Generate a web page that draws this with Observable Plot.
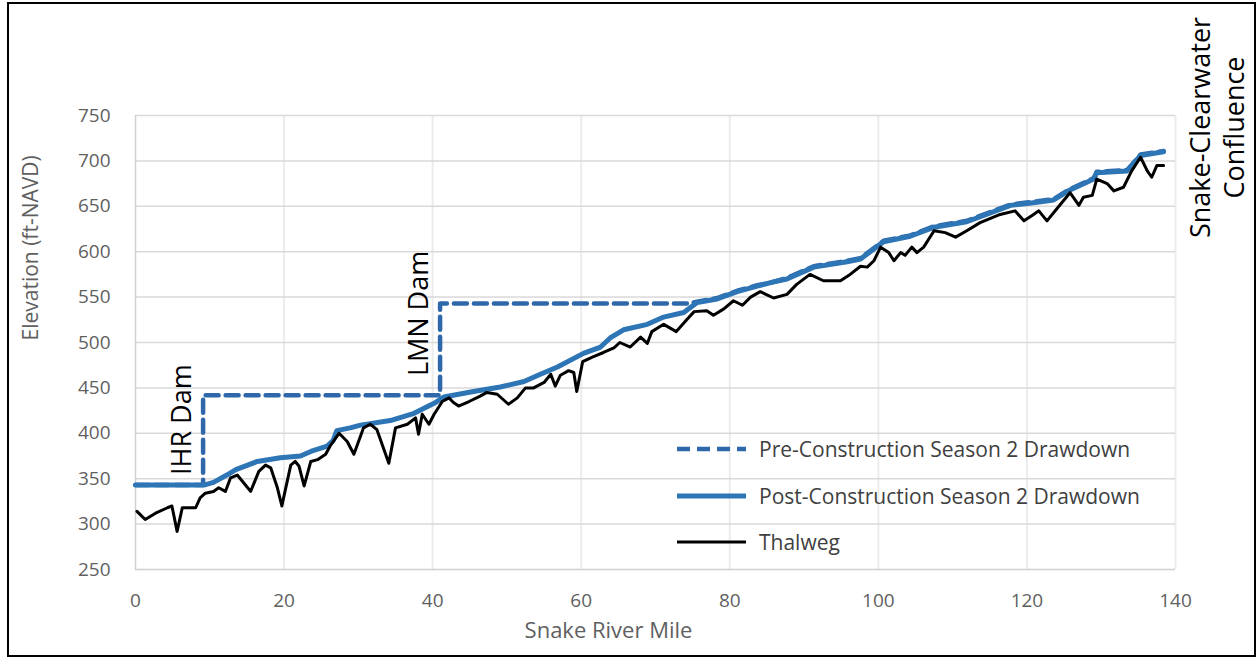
<!DOCTYPE html>
<html><head><meta charset="utf-8">
<script src="https://cdn.jsdelivr.net/npm/d3@7"></script>
<script src="https://cdn.jsdelivr.net/npm/@observablehq/plot@0.6"></script>
<style>
body{margin:0;background:#fff;}
#wrap{position:relative;width:1257px;height:659px;overflow:hidden;font-family:"Open Sans",sans-serif;background:#fff;}
#chart{position:absolute;left:0;top:0;}
#frame{position:absolute;left:7px;top:2px;width:1249px;height:655px;border:2px solid #000;box-sizing:border-box;pointer-events:none;}
#legend{position:absolute;left:677px;top:0;}
.item{position:absolute;left:0;height:30px;display:flex;align-items:center;white-space:nowrap;font-size:21px;color:#404040;}
.item svg{margin-right:12px;}
</style></head><body>
<div id="wrap"><div id="chart"></div><div id="legend"></div><div id="frame"></div></div>
<script>
// Tick values
const xTicks = [0, 20, 40, 60, 80, 100, 120, 140];
const yTicks = [250, 300, 350, 400, 450, 500, 550, 600, 650, 700, 750];

// Series names
const seriesNames = ["Pre-Construction Season 2 Drawdown", "Post-Construction Season 2 Drawdown", "Thalweg"];

// Pre-Construction Season 2 Drawdown (dashed)
const preMile = [0, 9.1, 9.1, 41.0, 41.0, 74.7, 75.6, 78.3, 81.0, 83.7, 85.5, 87.7, 91.3, 95.8, 97.6, 100.7, 104.3, 107.5, 111.9, 117.8, 120.9, 123.6, 125.8, 129.0, 129.4, 133.5, 135.3, 138.4];
const preElev = [343, 343, 442, 442, 543, 543, 545, 549, 557, 563, 566, 571, 584, 590, 593, 612, 618, 628, 634, 652, 655, 658, 669, 681, 688, 690, 707, 711];

// Post-Construction Season 2 Drawdown (solid blue)
const postMile = [0, 9.2, 10.5, 12.3, 13.5, 16.4, 19.5, 22.2, 23.6, 25.8, 26.6, 27.1, 28.9, 30.3, 34.3, 37.5, 40.2, 41.5, 45.5, 49.1, 52.3, 54.5, 56.8, 60.3, 62.6, 63.9, 65.7, 68.9, 71.1, 73.8, 75.6, 78.3, 81.0, 83.7, 85.5, 87.7, 91.3, 95.8, 97.6, 100.7, 104.3, 107.5, 111.9, 117.8, 120.9, 123.6, 125.8, 129.0, 129.4, 133.5, 135.3, 138.4];
const postElev = [343, 343, 346, 354, 360, 369, 373, 375, 380, 386, 392, 403, 406, 409, 414, 422, 433, 440, 446, 451, 457, 465, 473, 488, 495, 505, 514, 520, 528, 533, 544, 548, 556, 562, 566, 570, 583, 589, 592, 611, 617, 627, 633, 651, 654, 657, 668, 680, 687, 689, 706, 710];

// Thalweg (black)
const thalMile = [0.2, 1.3, 2.7, 4.3, 4.9, 5.6, 6.3, 8.1, 8.7, 9.4, 10.5, 11.2, 12.1, 12.8, 13.7, 14.8, 15.5, 16.6, 17.5, 18.2, 19.1, 19.7, 20.9, 21.5, 22.0, 22.7, 23.6, 24.5, 25.6, 26.2, 27.4, 28.5, 29.4, 30.7, 31.6, 32.5, 34.1, 35.0, 36.6, 37.7, 38.1, 38.6, 39.5, 40.2, 41.3, 42.2, 42.8, 43.5, 44.9, 46.4, 47.3, 48.7, 50.2, 51.4, 52.5, 53.6, 55.0, 55.9, 56.5, 57.2, 58.3, 59.0, 59.4, 60.2, 61.5, 63.0, 64.4, 65.2, 66.6, 68.0, 68.9, 69.5, 71.1, 72.8, 74.2, 75.2, 76.9, 77.8, 79.2, 80.5, 81.7, 82.8, 84.1, 85.9, 87.7, 89.0, 90.8, 92.6, 94.9, 96.2, 97.6, 98.5, 99.4, 100.3, 101.4, 102.1, 103.0, 103.6, 104.5, 105.2, 106.1, 107.5, 109.0, 110.4, 111.9, 113.7, 116.4, 118.4, 119.6, 120.7, 121.6, 122.7, 124.0, 125.8, 127.0, 127.6, 128.8, 129.4, 130.8, 131.7, 133.0, 134.1, 135.3, 136.2, 136.8, 137.5, 138.4];
const thalElev = [314, 305, 312, 318, 320, 292, 318, 318, 329, 334, 336, 340, 336, 351, 354, 343, 336, 358, 365, 362, 340, 320, 365, 369, 364, 342, 369, 371, 377, 386, 400, 391, 377, 406, 410, 404, 367, 406, 410, 417, 399, 421, 410, 421, 435, 439, 434, 430, 435, 441, 445, 443, 432, 439, 450, 450, 456, 465, 452, 464, 469, 467, 446, 479, 484, 489, 494, 500, 495, 506, 499, 512, 520, 512, 525, 534, 535, 530, 537, 546, 541, 550, 556, 549, 553, 564, 575, 568, 568, 575, 584, 583, 590, 605, 599, 590, 599, 596, 605, 599, 605, 623, 621, 616, 623, 632, 641, 645, 634, 640, 645, 634, 647, 665, 651, 660, 662, 680, 675, 667, 671, 689, 704, 689, 682, 695, 695];

// Annotations
const damLabels = ["IHR Dam", "LMN Dam"];
const damMiles = [9.1, 41.0];
const damLabelBase = [354, 463];
const confluenceLines = ["Snake-Clearwater", "Confluence"];
const xTitle = "Snake River Mile";
const yTitle = "Elevation (ft-NAVD)";

const toRows = (m, e) => m.map((v, i) => ({mile: v, elev: e[i]}));
const pre = toRows(preMile, preElev);
const post = toRows(postMile, postElev);
const thal = toRows(thalMile, thalElev);

const preColor = "#2F68AA", postColor = "#2E75B6", thalColor = "#000000";

const chart = Plot.plot({
  width: 1257, height: 659,
  marginLeft: 135, marginRight: 82, marginTop: 115, marginBottom: 90,
  style: {fontFamily: '"Open Sans", sans-serif', color: "#5f5f5f", background: "transparent", overflow: "visible"},
  x: {domain: [0, 140]},
  y: {domain: [250, 750]},
  marks: [
    Plot.gridX(xTicks.slice(1), {stroke: "#ececec", strokeOpacity: 1, strokeWidth: 2}),
    Plot.gridY(yTicks.slice(1), {stroke: "#d9d9d9", strokeOpacity: 1, strokeWidth: 1.5}),
    Plot.ruleY([250], {stroke: "#d0d0d0", strokeWidth: 1.5}),
    Plot.ruleX([0], {stroke: "#d0d0d0", strokeWidth: 1.5}),
    Plot.axisX(xTicks, {tickSize: 0, tickPadding: 24, fontSize: 19, label: null}),
    Plot.axisY(yTicks, {tickSize: 0, tickPadding: 25, fontSize: 19, label: null}),
    Plot.text([xTitle], {frameAnchor: "bottom", dy: 68, dx: -47, fontSize: 22, fill: "#5f5f5f"}),
    Plot.text([yTitle], {frameAnchor: "left", rotate: -90, dx: -104, dy: -2, fontSize: 21, fill: "#5f5f5f"}),
    Plot.line(pre, {x: "mile", y: "elev", stroke: preColor, strokeWidth: 4.5, strokeDasharray: "13,7"}),
    Plot.line(post, {x: "mile", y: "elev", stroke: postColor, strokeWidth: 5}),
    Plot.line(thal, {x: "mile", y: "elev", stroke: thalColor, strokeWidth: 3}),
    Plot.text(damLabels, {x: damMiles, y: damLabelBase, rotate: -90, textAnchor: "start", dx: -21, fontSize: 27, fill: "#000"}),
    Plot.text([confluenceLines[0]], {frameAnchor: "top-right", textAnchor: "middle", lineAnchor: "middle", rotate: -90, dx: 26, dy: 12, fontSize: 27, fill: "#000"}),
    Plot.text([confluenceLines[1]], {frameAnchor: "top-right", textAnchor: "middle", lineAnchor: "middle", rotate: -90, dx: 60, dy: 12, fontSize: 27, fill: "#000"})
  ]
});
document.getElementById("chart").appendChild(chart);

// Legend
const legend = document.getElementById("legend");
const legendRows = [449, 496, 542];
const legendStyles = [
  {color: preColor, width: 4.5, dash: "13,7"},
  {color: postColor, width: 5, dash: null},
  {color: thalColor, width: 3, dash: null}
];
seriesNames.forEach((name, i) => {
  const item = document.createElement("div");
  item.className = "item";
  item.style.top = (legendRows[i] - 15) + "px";
  const s = legendStyles[i];
  item.innerHTML = `<svg width="70" height="30"><line x1="0" x2="69" y1="15" y2="15" stroke="${s.color}" stroke-width="${s.width}" ${s.dash ? `stroke-dasharray="${s.dash}"` : ""}/></svg><span>${name}</span>`;
  legend.appendChild(item);
});
</script>
</body></html>
